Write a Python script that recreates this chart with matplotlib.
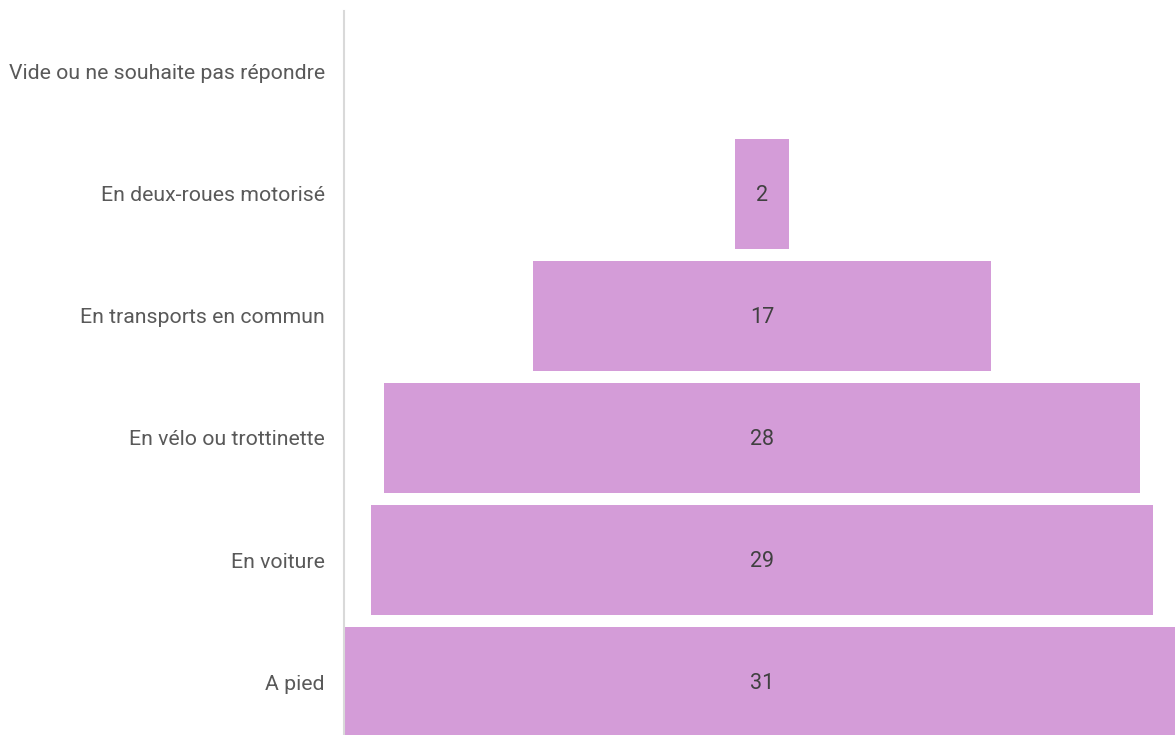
import matplotlib
matplotlib.use("Agg")
import matplotlib.pyplot as plt

categories = ["A pied", "En voiture", "En vélo ou trottinette", "En transports en commun",
              "En deux-roues motorisé", "Vide ou ne souhaite pas répondre"]
values = [31, 29, 28, 17, 2, 0]

BAR_COLOR = "#D49CD8"
W, H = 1175, 735
fig = plt.figure(figsize=(W / 100, H / 100), dpi=100)
ax = fig.add_axes([344 / W, 0, (1180 - 344) / W, 1 - 11 / H])

vmax = max(values)
ypos = list(range(len(categories)))
lefts = [(vmax - v) / 2 for v in values]
ax.barh(ypos, values, left=lefts, height=110 / 122, color=BAR_COLOR, edgecolor="none")
for y, v in zip(ypos, values):
    if v > 0:
        ax.text(vmax / 2, y - 0.01, str(v), ha="center", va="center", fontsize=15.5,
                color="#404040", family="Roboto")

ax.set_xlim(0, vmax)
ax.set_ylim(-53 / 122, len(categories) - 0.5)
ax.set_yticks(ypos)
ax.set_yticklabels(categories, fontsize=15.3, color="#595959", family="Roboto")
ax.tick_params(axis="y", length=0, pad=13.7)
ax.set_xticks([])
for s in ["top", "right", "bottom"]:
    ax.spines[s].set_visible(False)
ax.spines["left"].set_color("#D9D9D9")
ax.spines["left"].set_linewidth(1.5)

fig.savefig("out.png", dpi=100)
